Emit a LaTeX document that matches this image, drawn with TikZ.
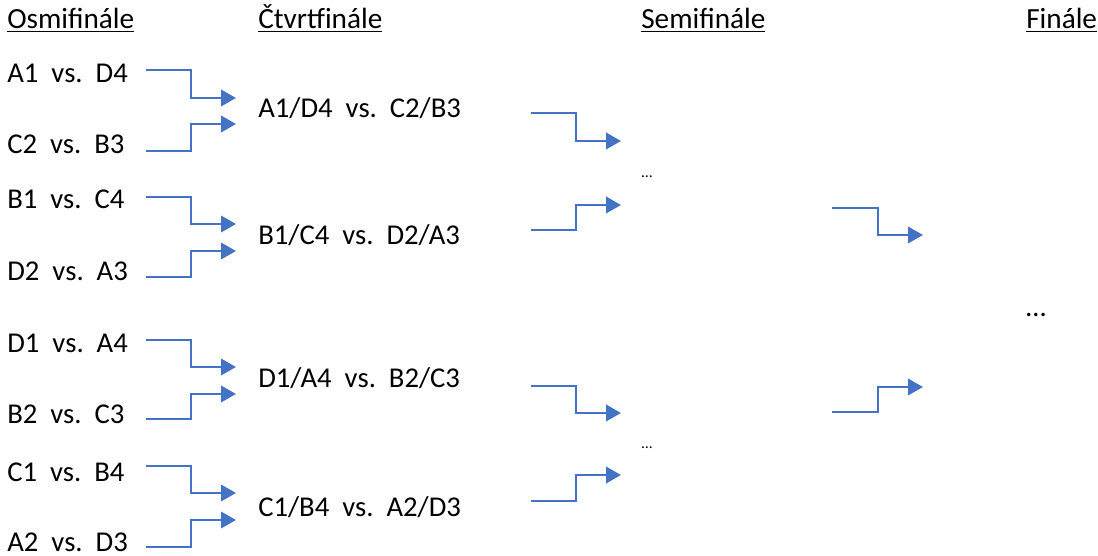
\documentclass[tikz,border=0pt]{standalone}
\usepackage{fontspec}
\setmainfont{Carlito}
\usetikzlibrary{arrows.meta}
\definecolor{officeblue}{RGB}{68,114,196}

\begin{document}
\begin{tikzpicture}[x=0.025cm,y=-0.025cm]
        %
        % `team' is used for the match labels, `heading' for the round names.
        % `winner' is used for the blue arrows, `gap' for the dots.
        \tikzstyle{team} = [anchor=base west,inner sep=0pt,font=\fontsize{20.4}{24}\selectfont]
        \tikzstyle{heading} = [team,font=\fontsize{20.8}{24}\selectfont]
        \tikzstyle{winner} = [draw=officeblue,line width=1.6pt,-{Triangle[length=10.5pt,width=11.5pt]}]
        \tikzstyle{gap} = [anchor=base,inner sep=0pt,font=\fontsize{11}{12}\selectfont]
        \useasboundingbox (0,0) rectangle (1098,556);
        %
        % Headings
        \node[heading] (h1) at (7,29) {\underline{Osmifinále}};
        \node[heading] (h2) at (258,29) {\underline{Čtvrtfinále}};
        \node[heading] (h3) at (641,29) {\underline{Semifinále}};
        \node[heading] (h4) at (1026,29) {\underline{Finále}};
        %
        % Column 1
        \node[team] (m1) at (7,83) {A1\ \ vs.\ \ D4};
        \node[team] (m2) at (7,154) {C2\ \ vs.\ \ B3};
        \node[team] (m3) at (7,209) {B1\ \ vs.\ \ C4};
        \node[team] (m4) at (7,281) {D2\ \ vs.\ \ A3};
        \node[team] (m5) at (7,353) {D1\ \ vs.\ \ A4};
        \node[team] (m6) at (7,424) {B2\ \ vs.\ \ C3};
        \node[team] (m7) at (7,481) {C1\ \ vs.\ \ B4};
        \node[team] (m8) at (7,551) {A2\ \ vs.\ \ D3};
        %
        % Column 2
        \node[team] (q1) at (258,118) {A1/D4\ \ vs.\ \ C2/B3};
        \node[team] (q2) at (258,245) {B1/C4\ \ vs.\ \ D2/A3};
        \node[team] (q3) at (258,388) {D1/A4\ \ vs.\ \ B2/C3};
        \node[team] (q4) at (258,516) {C1/B4\ \ vs.\ \ A2/D3};
        %
        % Column 3
        \node[gap] (s1) at (647,178) {…};
        \node[gap] (s2) at (647,448) {…};
        %
        % Column 4
        \node[team,anchor=base] (f1) at (1036,317) {…};
        %
        % Arrow ends
        \coordinate (m1o) at (146,70);   \coordinate (q1a) at (236,98);
        \coordinate (m2o) at (146,151);  \coordinate (q1b) at (236,124);
        \coordinate (m3o) at (146,197);  \coordinate (q2a) at (236,224);
        \coordinate (m4o) at (146,277);  \coordinate (q2b) at (236,251);
        \coordinate (m5o) at (146,340);  \coordinate (q3a) at (236,367);
        \coordinate (m6o) at (146,419);  \coordinate (q3b) at (236,394);
        \coordinate (m7o) at (146,466);  \coordinate (q4a) at (236,493);
        \coordinate (m8o) at (146,547);  \coordinate (q4b) at (236,520);
        \coordinate (q1o) at (531,113);  \coordinate (s1a) at (621,141);
        \coordinate (q2o) at (531,230);  \coordinate (s1b) at (621,205);
        \coordinate (q3o) at (531,386);  \coordinate (s2a) at (621,413);
        \coordinate (q4o) at (531,501);  \coordinate (s2b) at (621,475);
        \coordinate (s1o) at (832,208);  \coordinate (f1a) at (923,235);
        \coordinate (s2o) at (832,412);  \coordinate (f1b) at (923,387);
        %
        % Arrows to the quarter-finals
        \draw[winner] (m1o) -- ++(45,0) |- (q1a);
        \draw[winner] (m2o) -- ++(45,0) |- (q1b);
        \draw[winner] (m3o) -- ++(45,0) |- (q2a);
        \draw[winner] (m4o) -- ++(45,0) |- (q2b);
        \draw[winner] (m5o) -- ++(45,0) |- (q3a);
        \draw[winner] (m6o) -- ++(45,0) |- (q3b);
        \draw[winner] (m7o) -- ++(45,0) |- (q4a);
        \draw[winner] (m8o) -- ++(45,0) |- (q4b);
        %
        % Arrows to the semi-finals
        \draw[winner] (q1o) -- ++(45,0) |- (s1a);
        \draw[winner] (q2o) -- ++(45,0) |- (s1b);
        \draw[winner] (q3o) -- ++(45,0) |- (s2a);
        \draw[winner] (q4o) -- ++(45,0) |- (s2b);
        %
        % Arrows to the final
        \draw[winner] (s1o) -- ++(46,0) |- (f1a);
        \draw[winner] (s2o) -- ++(46,0) |- (f1b);
        %
\end{tikzpicture}
\end{document}
